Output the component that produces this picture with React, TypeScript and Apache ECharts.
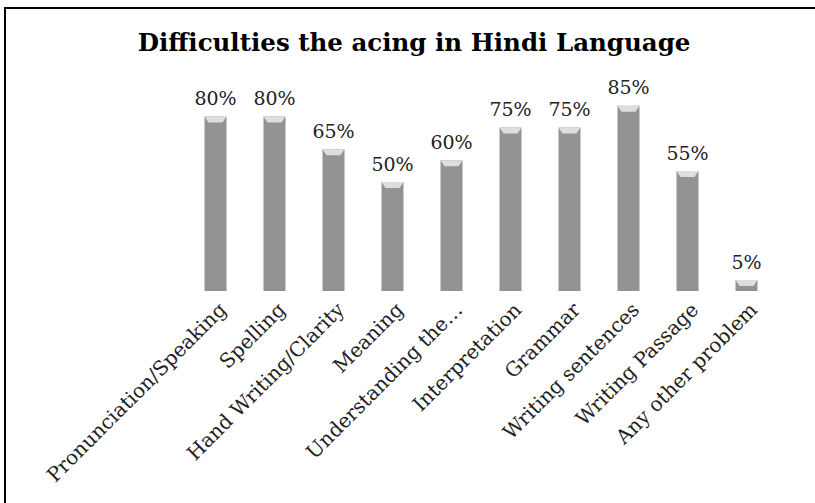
import React, { useEffect, useRef } from "react";
import * as echarts from "echarts";

const titleText = "Difficulties the acing in Hindi Language";
const categories = [
  "Pronunciation/Speaking",
  "Spelling",
  "Hand Writing/Clarity",
  "Meaning",
  "Understanding the\u2026",
  "Interpretation",
  "Grammar",
  "Writing sentences",
  "Writing Passage",
  "Any other problem",
];
const values = [80, 80, 65, 50, 60, 75, 75, 85, 55, 5];

const FONT = "'DejaVu Serif', serif";

export default function App() {
  const ref = useRef<HTMLDivElement>(null);
  useEffect(() => {
    if (!ref.current) return;
    const chart = echarts.init(ref.current, undefined, { renderer: "svg" });
    chart.setOption({
      animation: false,
      backgroundColor: "#ffffff",
      title: {
        text: titleText,
        left: 409,
        textAlign: "center",
        top: 25,
        textStyle: { fontFamily: FONT, fontWeight: "bold", fontSize: 24.5, color: "#000" },
      },
      graphic: [
        {
          type: "rect",
          shape: { x: 5, y: 8, width: 830, height: 520 },
          style: { fill: "none", stroke: "#000", lineWidth: 2 },
          silent: true,
        },
      ],
      grid: { left: 186, right: 39, top: 73, bottom: 212 },
      xAxis: {
        type: "category",
        data: categories,
        axisLine: { show: false },
        axisTick: { show: false },
        axisLabel: {
          rotate: 45,
          interval: 0,
          margin: 8,
          verticalAlign: "top",
          fontFamily: FONT,
          fontSize: 20,
          color: "#222",
        },
      },
      yAxis: {
        type: "value",
        min: 0,
        max: 100,
        show: false,
        splitLine: { show: false },
      },
      series: [
        {
          type: "bar",
          data: values,
          barWidth: 22,
          itemStyle: { color: "#939396" },
          label: {
            show: true,
            position: "top",
            distance: 9,
            formatter: "{c}%",
            fontFamily: FONT,
            fontSize: 19,
            color: "#222",
          },
        },
        {
          type: "pictorialBar",
          data: values,
          symbol: "path://M0,0 L22,0 L18,6 L4,6 Z",
          symbolSize: [22, 6],
          symbolPosition: "end",
          symbolOffset: [0, 0],
          barGap: "-100%",
          itemStyle: { color: "#dedede" },
          z: 5,
        },
      ],
    });
    return () => chart.dispose();
  }, []);
  return (
    <div
      ref={ref}
      style={{ position: "fixed", left: 0, top: 0, width: 815, height: 503 }}
    />
  );
}
